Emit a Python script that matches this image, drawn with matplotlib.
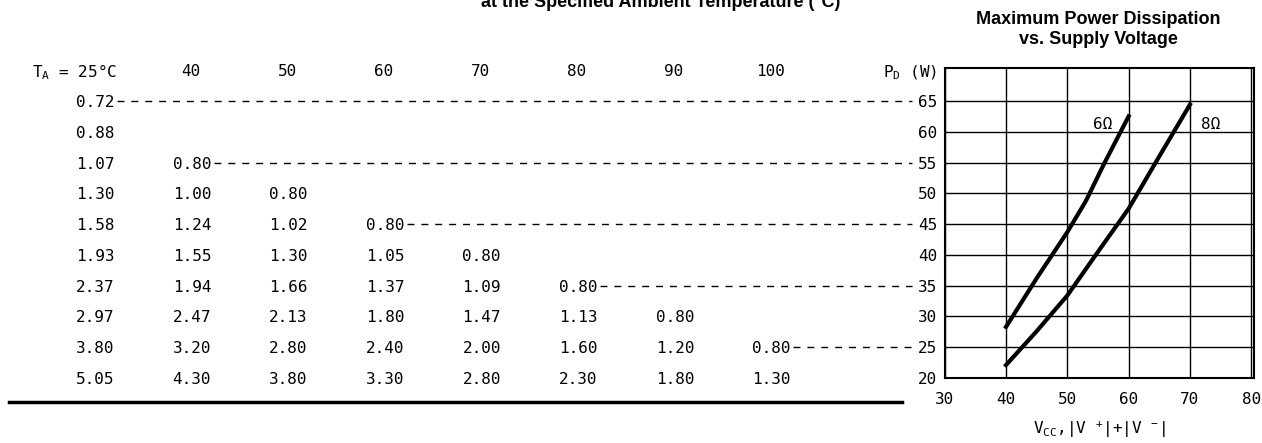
import matplotlib
matplotlib.use('Agg')
import matplotlib.pyplot as plt
from matplotlib.lines import Line2D

plt.rcParams['font.family'] = 'DejaVu Sans Mono'
plt.rcParams['mathtext.default'] = 'regular'
plt.rcParams['font.size'] = 11.5

TITLE_FONT = 'Liberation Sans'

# thermal resistance table: one list per ambient temperature, one entry per P_D row
temps = [25, 40, 50, 60, 70, 80, 90, 100]
pd_w = [65, 60, 55, 50, 45, 40, 35, 30, 25, 20]
t25 = [0.72, 0.88, 1.07, 1.30, 1.58, 1.93, 2.37, 2.97, 3.80, 5.05]
t40 = [None, None, 0.80, 1.00, 1.24, 1.55, 1.94, 2.47, 3.20, 4.30]
t50 = [None, None, None, 0.80, 1.02, 1.30, 1.66, 2.13, 2.80, 3.80]
t60 = [None, None, None, None, 0.80, 1.05, 1.37, 1.80, 2.40, 3.30]
t70 = [None, None, None, None, None, 0.80, 1.09, 1.47, 2.00, 2.80]
t80 = [None, None, None, None, None, None, 0.80, 1.13, 1.60, 2.30]
t90 = [None, None, None, None, None, None, None, 0.80, 1.20, 1.80]
t100 = [None, None, None, None, None, None, None, None, 0.80, 1.30]
table_cols = [t25, t40, t50, t60, t70, t80, t90, t100]

# max power dissipation vs supply voltage
v_6ohm = [40, 45, 50, 53, 56, 60]
p_6ohm = [28.3, 36.2, 43.7, 48.7, 54.8, 62.5]
v_8ohm = [40, 45, 50, 55, 60, 65, 70]
p_8ohm = [22.1, 27.6, 33.4, 40.5, 47.5, 56.0, 64.4]

W, H = 1262, 443


def fx(px):
    return px / W


def fy(py):
    return 1 - py / H


fig = plt.figure(figsize=(W / 100, H / 100), dpi=100)
fig.patch.set_facecolor('white')

ax = fig.add_axes([fx(944.7), fy(378), fx(1254) - fx(944.7), fy(68) - fy(378)])
tab = fig.add_axes([0, fy(378), fx(944.7), fy(68) - fy(378)], sharey=ax)
tab.set_xlim(0, 944.7)
tab.axis('off')

# --- chart ---
ax.set_xlim(30, 80.45)
ax.set_ylim(20, 70.35)
ax.set_xticks(range(30, 81, 10))
ax.set_yticks(range(20, 66, 5))
ax.grid(True, color='black', lw=1.0)
ax.set_axisbelow(True)
ax.tick_params(length=0)
ax.tick_params(axis='y', pad=5.5)
ax.tick_params(axis='x', pad=10)
for s in ax.spines.values():
    s.set_linewidth(1.5)

ax.plot(v_6ohm, p_6ohm, color='black', lw=3)
ax.plot(v_8ohm, p_8ohm, color='black', lw=3)
ax.text(55.8, 61.4, '6Ω', ha='center', va='center_baseline')
ax.text(73.3, 61.4, '8Ω', ha='center', va='center_baseline')
ax.set_xlabel(r'V$_{CC}$,|V $^{+}$|+|V $^{-}$|', labelpad=9)

# --- table ---
COL_X0, COL_STEP, CELL_W = 76, 96.6, 41
row_step = pd_w[0] - pd_w[1]
header_y = pd_w[0] + row_step

for j, (temp, col) in enumerate(zip(temps, table_cols)):
    x0 = COL_X0 + j * COL_STEP
    for p, v in zip(pd_w, col):
        if v is None:
            continue
        tab.text(x0, p, f'{v:.2f}', ha='left', va='center_baseline')
    if j == 0:
        tab.text(32, header_y, f'T$_A$ = {temp}°C', ha='left', va='center_baseline', clip_on=False)
    else:
        tab.text(x0 + 18, header_y, str(temp), ha='center', va='center_baseline', clip_on=False)

tab.text(937, header_y, 'P$_D$ (W)', ha='right', va='center_baseline', clip_on=False)

# dashed leaders from the last cell of every other row to the P_D axis
for i, p in enumerate(pd_w):
    if i % 2:
        continue
    last = [j for j, col in enumerate(table_cols) if col[i] is not None][-1]
    tab.plot([COL_X0 + last * COL_STEP + CELL_W, 912], [p, p],
             color='black', lw=1.0, dashes=(5, 5))

fig.add_artist(Line2D([fx(9), fx(902)], [fy(402), fy(402)], lw=2.5, color='black'))

# --- titles ---
fig.text(fx(661), fy(7), 'at the Specified Ambient Temperature (°C)', ha='center', va='baseline',
         family=TITLE_FONT, weight='bold', size=13)
fig.text(fx(1098), fy(11), 'Maximum Power Dissipation\nvs. Supply Voltage', ha='center', va='top',
         family=TITLE_FONT, weight='bold', size=13, linespacing=1.2)

fig.savefig('out.png', dpi=100, facecolor='white')
